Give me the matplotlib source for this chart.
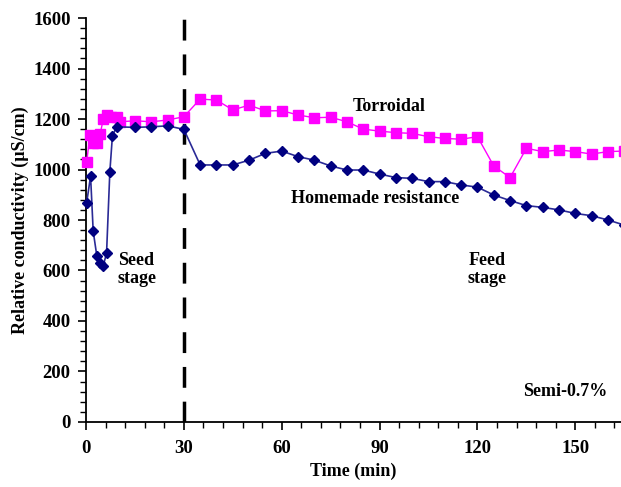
import matplotlib
matplotlib.use('Agg')
import matplotlib.pyplot as plt
from matplotlib.ticker import MultipleLocator

plt.rcParams['font.family'] = ['Liberation Serif', 'DejaVu Serif']
plt.rcParams['font.weight'] = 'bold'

# Torroidal sensor (magenta squares)
t_toro = [0.2, 1.2, 2.2, 3.3, 4.3, 5.3, 6.3, 7.8, 9.4, 10.4, 15, 20, 25, 30,
          35, 40, 45, 50, 55, 60, 65, 70, 75, 80, 85, 90, 95, 100, 105, 110,
          115, 120, 125, 130, 135, 140, 145, 150, 155, 160, 165]
c_toro = [1028, 1137, 1106, 1106, 1139, 1199, 1216, 1209, 1209, 1189, 1193, 1189, 1196, 1209,
          1279, 1275, 1236, 1255, 1232, 1233, 1216, 1205, 1207, 1189, 1160, 1152, 1146, 1143,
          1130, 1123, 1120, 1130, 1014, 968, 1084, 1071, 1077, 1071, 1061, 1071, 1073]

# Homemade resistance sensor (navy diamonds)
t_home = [0.2, 1.4, 2.2, 3.3, 4.3, 5.3, 6.3, 7.3, 8.1, 9.4, 15, 20, 25, 30,
          35, 40, 45, 50, 55, 60, 65, 70, 75, 80, 85, 90, 95, 100, 105, 110,
          115, 120, 125, 130, 135, 140, 145, 150, 155, 160, 165]
c_home = [868, 974, 756, 659, 628, 619, 669, 990, 1134, 1169, 1167, 1169, 1173, 1159,
          1018, 1018, 1018, 1037, 1064, 1073, 1051, 1037, 1014, 998, 998, 982, 968, 965,
          952, 952, 939, 930, 899, 877, 857, 850, 840, 826, 817, 800, 780]

fig = plt.figure(figsize=(6.21, 4.87), dpi=100)
ax = fig.add_axes([0.1385, 0.1335, 0.8615, 0.8295])

ax.plot(t_toro, c_toro, color='#ff00ff', lw=1, marker='s', ms=7.5,
        markerfacecolor='#ff00ff', markeredgecolor='#ff00ff', clip_on=False, zorder=3)
ax.plot(t_home, c_home, color='#2a2a96', lw=1.2, marker='D', ms=5.5,
        markerfacecolor='#000080', markeredgecolor='#000080', clip_on=False, zorder=3)

# boundary between seed and feed stage
ax.axvline(30, color='black', lw=2.5, dashes=(6, 4), zorder=2)

ax.set_xlim(0, 164)
ax.set_ylim(0, 1600)
ax.xaxis.set_major_locator(MultipleLocator(30))
ax.xaxis.set_minor_locator(MultipleLocator(6))
ax.yaxis.set_major_locator(MultipleLocator(200))
ax.yaxis.set_minor_locator(MultipleLocator(40))

for s in ['top', 'right']:
    ax.spines[s].set_visible(False)
for s in ['left', 'bottom']:
    ax.spines[s].set_linewidth(1.3)

ax.tick_params(which='major', direction='out', length=6, width=1.2, labelsize=13.5)
ax.tick_params(axis='y', which='major', pad=5)
ax.tick_params(axis='x', which='major', pad=7)
ax.tick_params(which='minor', direction='out', length=4, width=1)

ax.set_xlabel('Time (min)', fontsize=13, fontweight='bold', labelpad=4)
ax.set_ylabel('Relative conductivity (µS/cm)', fontsize=13, fontweight='bold', labelpad=3)

ax.text(93, 1250, 'Torroidal', fontsize=13, fontweight='bold', ha='center', va='center')
ax.text(88.5, 887, 'Homemade resistance', fontsize=13, fontweight='bold', ha='center', va='center')
ax.text(9.8, 605, 'Seed\nstage', fontsize=13, fontweight='bold', ha='left', va='center',
        linespacing=1.1)
ax.text(123, 605, 'Feed\nstage', fontsize=13, fontweight='bold', ha='center', va='center',
        linespacing=1.1)
ax.text(134, 120, 'Semi-0.7%', fontsize=13, fontweight='bold', ha='left', va='center')

fig.savefig('out.png', dpi=100)
